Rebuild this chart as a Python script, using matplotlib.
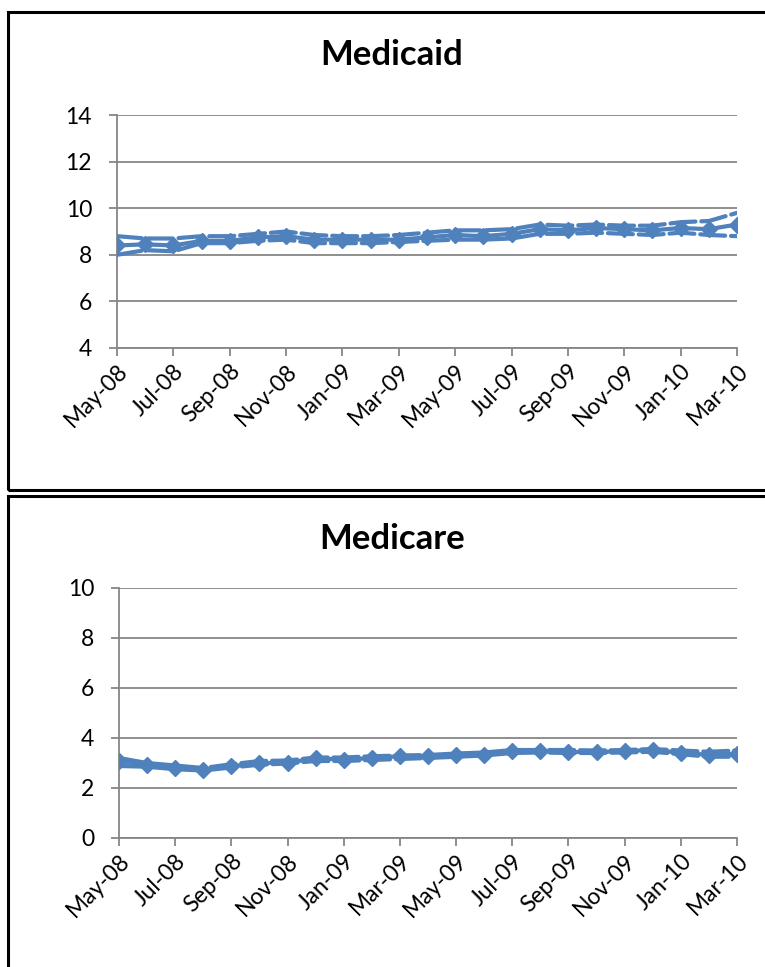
import matplotlib

matplotlib.use("Agg")
import matplotlib.pyplot as plt
from matplotlib.patches import Rectangle

plt.rcParams["font.family"] = ["Lato", "DejaVu Sans"]

months = ["May-08", "Jun-08", "Jul-08", "Aug-08", "Sep-08", "Oct-08", "Nov-08", "Dec-08",
          "Jan-09", "Feb-09", "Mar-09", "Apr-09", "May-09", "Jun-09", "Jul-09", "Aug-09",
          "Sep-09", "Oct-09", "Nov-09", "Dec-09", "Jan-10", "Feb-10", "Mar-10"]

medicaid_est = [8.40, 8.45, 8.40, 8.60, 8.60, 8.75, 8.80, 8.65, 8.65, 8.65, 8.65, 8.75,
                8.85, 8.80, 8.90, 9.10, 9.05, 9.15, 9.10, 9.05, 9.15, 9.10, 9.30]
medicaid_hi = [8.80, 8.70, 8.70, 8.80, 8.80, 8.90, 9.00, 8.85, 8.80, 8.80, 8.85, 8.95,
               9.05, 9.05, 9.10, 9.30, 9.25, 9.30, 9.25, 9.25, 9.40, 9.45, 9.80]
medicaid_lo = [8.00, 8.20, 8.15, 8.50, 8.50, 8.60, 8.65, 8.50, 8.50, 8.50, 8.55, 8.60,
               8.65, 8.65, 8.70, 8.90, 8.90, 8.95, 8.90, 8.85, 8.95, 8.85, 8.80]

medicare_est = [3.07, 2.93, 2.80, 2.73, 2.87, 3.00, 3.00, 3.20, 3.13, 3.20, 3.27, 3.27,
                3.33, 3.33, 3.47, 3.47, 3.44, 3.44, 3.47, 3.53, 3.40, 3.33, 3.37]
medicare_hi = [3.20, 3.00, 2.90, 2.80, 2.95, 3.08, 3.10, 3.22, 3.22, 3.27, 3.30, 3.32,
               3.38, 3.42, 3.52, 3.52, 3.52, 3.50, 3.52, 3.56, 3.50, 3.45, 3.50]
medicare_lo = [2.88, 2.85, 2.75, 2.70, 2.82, 2.93, 2.98, 3.08, 3.08, 3.12, 3.16, 3.20,
               3.25, 3.30, 3.40, 3.42, 3.40, 3.40, 3.42, 3.45, 3.35, 3.25, 3.25]

medicaid_yticks = [4, 6, 8, 10, 12, 14]
medicare_yticks = [0, 2, 4, 6, 8, 10]

BLUE = "#4F81BD"
GRID = "#868686"
W, H = 765, 967


def px_rect(x0, y0, x1, y1):
    # pixel box (top-left origin) -> figure fraction [left, bottom, width, height]
    return [x0 / W, 1 - y1 / H, (x1 - x0) / W, (y1 - y0) / H]


def draw_panel(fig, rect, title, est, hi, lo, yticks, title_y):
    ax = fig.add_axes(rect)
    x = list(range(len(months)))
    dash = dict(color=BLUE, lw=3.0, ls=(0, (6, 1.4)), dash_capstyle="round", zorder=3)
    ax.plot(x, hi, **dash)
    ax.plot(x, lo, **dash)
    ax.plot(x, est, color=BLUE, lw=3.0, marker="D", ms=8, zorder=4)

    ax.set_xlim(0, len(months) - 1)
    ax.set_ylim(yticks[0], yticks[-1])
    ax.set_yticks(yticks)
    ax.set_xticks(x[::2])
    ax.set_xticklabels(months[::2], rotation=45, ha="right", va="top",
                       rotation_mode="anchor", fontsize=16.5)
    ax.tick_params(axis="y", labelsize=16.5, length=6, color=GRID, width=1.3, pad=12)
    ax.tick_params(axis="x", length=6, color=GRID, width=1.3, pad=3)
    ax.grid(axis="y", color=GRID, lw=1.3)
    ax.set_axisbelow(True)
    for s in ("top", "right"):
        ax.spines[s].set_visible(False)
    for s in ("left", "bottom"):
        ax.spines[s].set_color(GRID)
        ax.spines[s].set_linewidth(1.3)
    fig.text(392 / W, 1 - title_y / H, title, ha="center", va="center",
             fontsize=25, fontweight="bold")
    return ax


fig = plt.figure(figsize=(W / 100, H / 100), dpi=100)

fig.add_artist(Rectangle((8 / W, 1 - 490 / H), 800 / W, 478 / H,
                         transform=fig.transFigure, fill=False, ec="black", lw=2.2))
fig.add_artist(Rectangle((8 / W, 1 - 1000 / H), 800 / W, 504 / H,
                         transform=fig.transFigure, fill=False, ec="black", lw=2.2))

draw_panel(fig, px_rect(117, 115, 737, 348), "Medicaid",
           medicaid_est, medicaid_hi, medicaid_lo, medicaid_yticks, 55)
draw_panel(fig, px_rect(119, 588, 737, 838), "Medicare",
           medicare_est, medicare_hi, medicare_lo, medicare_yticks, 539)

fig.savefig("out.png", dpi=100)
